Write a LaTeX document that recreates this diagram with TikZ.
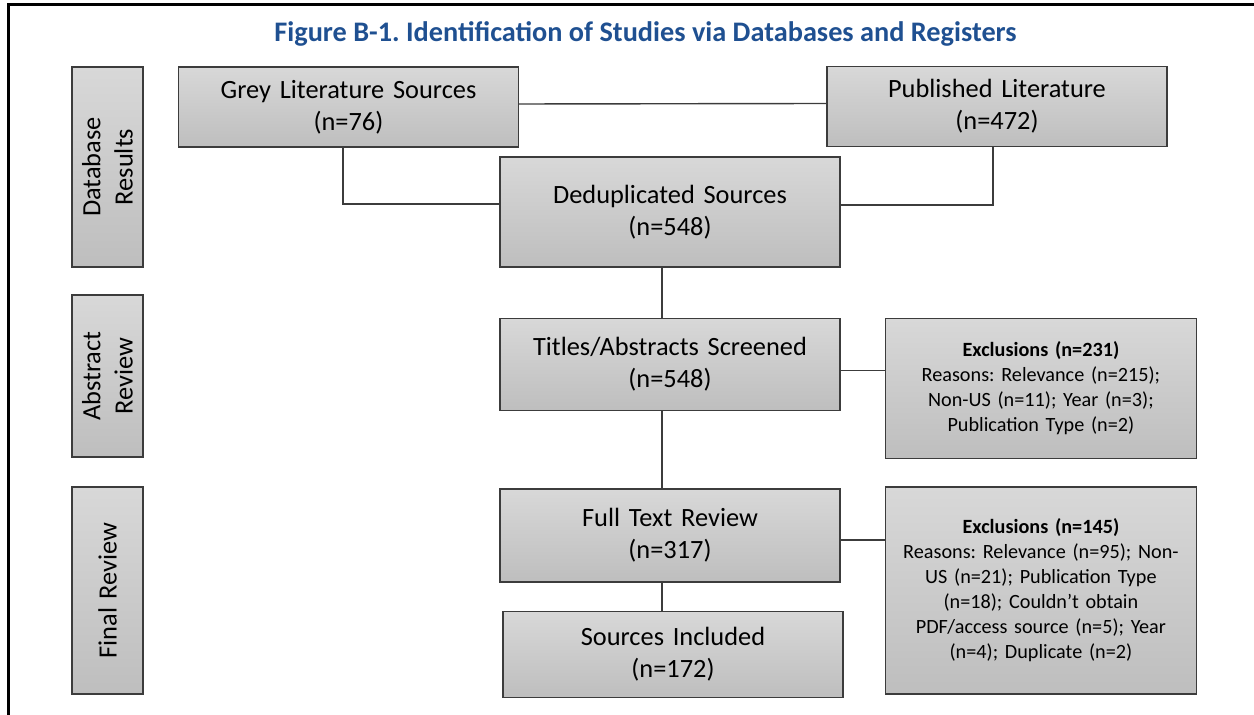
\documentclass[tikz,border=0pt]{standalone}
\usepackage{fontspec}
\setmainfont{Carlito}
\frenchspacing
\definecolor{titleblue}{RGB}{31,80,145}
\definecolor{boxtop}{RGB}{216,216,216}
\definecolor{boxbottom}{RGB}{190,190,190}
\definecolor{edgegray}{RGB}{60,60,60}
\usetikzlibrary{positioning,calc}
\tikzset{
  box/.style = {rectangle, draw=edgegray, line width=0.8pt,
                top color=boxtop, bottom color=boxbottom,
                text width = 6.8cm, align = center, inner sep=0pt,
                font = \fontsize{15}{18.3}\selectfont},
  excl/.style = {box, text width = 6.22cm,
                 font = \fontsize{11.5}{14.2}\selectfont},
  phase/.style = {box, rotate=90, minimum height = 1.42cm},
  link/.style = {draw=edgegray, line width=0.8pt}
}

\begin{document}
\begin{tikzpicture}
        \useasboundingbox (0,0) rectangle (25.08,-14.3);
        \draw[line width=0.06cm] (0.18,-14.3) |- (25.08,-0.1);
        \node[font=\fontsize{16.1}{20}\selectfont\bfseries, text=titleblue] (title) at (12.91,-0.68)
          {Figure B-1. Identification of Studies via Databases and Registers};
        \node[phase, text width=4cm] (dbres) at (2.15,-3.34) {Database\\Results};
        \node[phase, text width=3.24cm] (absrev) at (2.15,-7.52) {Abstract\\Review};
        \node[phase, text width=4.14cm] (finrev) at (2.15,-11.81) {Final Review};
        \node[box, minimum height=1.6cm] (grey) at (6.97,-2.14) {Grey Literature Sources\\(n=76)};
        \node[box, minimum height=1.6cm] (pub) at (19.94,-2.13) {Published Literature\\(n=472)};
        \node[box, minimum height=2.2cm] (dedup) at (13.4,-4.24) {Deduplicated Sources\\(n=548)};
        \node[box, minimum height=1.84cm, below=1.0cm of dedup] (screen) {Titles/Abstracts Screened\\(n=548)};
        \node[box, minimum height=1.86cm, below=1.54cm of screen] (full) {Full Text Review\\(n=317)};
        \node[box, minimum height=1.72cm, below=0.56cm of full, xshift=0.06cm] (incl) {Sources Included\\(n=172)};
        \node[excl, minimum height=2.8cm, anchor=north west] (ex1) at ([xshift=0.88cm]screen.north east)
          {\textbf{Exclusions (n=231)}\\Reasons: Relevance (n=215);\\Non-US (n=11); Year (n=3);\\Publication Type (n=2)};
        \node[excl, minimum height=4.14cm, anchor=north west] (ex2) at ([xshift=0.88cm, yshift=0.04cm]full.north east)
          {\textbf{Exclusions (n=145)}\\Reasons: Relevance (n=95); Non-\\US (n=21); Publication Type\\(n=18); Couldn’t obtain\\PDF/access source (n=5); Year\\(n=4); Duplicate (n=2)};
        \draw[link] ([yshift=0.06cm]grey.east) -- ([yshift=0.06cm]pub.west);
        \draw[link] ([xshift=-0.11cm]grey.south) |- ([yshift=0.16cm]dedup.west);
        \draw[link] ([xshift=-0.08cm]pub.south) |- ([yshift=0.14cm]dedup.east);
        \draw[link] ([xshift=-0.16cm]dedup.south) -- ([xshift=-0.16cm]screen.north);
        \draw[link] ([xshift=-0.16cm]screen.south) -- ([xshift=-0.16cm]full.north);
        \draw[link] ([xshift=-0.16cm]full.south) -- ([xshift=-0.16cm]full.south |- incl.north);
        \draw[link] ([yshift=-0.12cm]screen.east) -- ([yshift=-0.12cm]screen.east -| ex1.west);
        \draw[link] ([yshift=-0.09cm]full.east) -- ([yshift=-0.09cm]full.east -| ex2.west);
      \end{tikzpicture}
\end{document}
